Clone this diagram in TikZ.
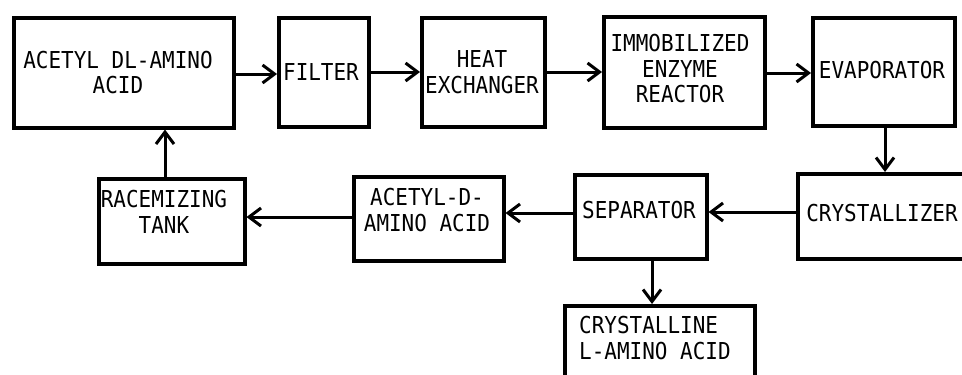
\documentclass[tikz,border=0pt]{standalone}
\usepackage{fontspec}
\setmainfont{DejaVu Sans Mono}[FakeStretch=0.9]
\usetikzlibrary{arrows.meta}
\begin{document}
\begin{tikzpicture}[x=1pt,y=-1pt,
  box/.style={draw, line width=3.5pt, inner sep=0pt, anchor=north west},
  lbl/.style={font=\fontsize{23.3}{25.5}\selectfont, align=center, inner sep=0pt},
  arr/.style={line width=3pt, -{Straight Barb[length=12pt,width=18pt,line width=3pt]}}]
\useasboundingbox (0,0) rectangle (962,375);
\clip (0,0) rectangle (962,375);
% boxes
\node[box, minimum width=220pt, minimum height=110pt] (b1) at (12,16) {};
\node[box, minimum width=90pt, minimum height=109pt] (filt) at (277,16) {};
\node[box, minimum width=123pt, minimum height=109pt] (heat) at (420,16) {};
\node[box, minimum width=161pt, minimum height=111pt] (reac) at (602,15) {};
\node[box, minimum width=142pt, minimum height=108pt] (evap) at (811,16) {};
\node[box, minimum width=200pt, minimum height=85pt] (cryst) at (796,172) {};
\node[box, minimum width=132pt, minimum height=84pt] (sep) at (573,173) {};
\node[box, minimum width=150pt, minimum height=84pt] (acd) at (352,175) {};
\node[box, minimum width=146pt, minimum height=85pt] (race) at (97,177) {};
\node[box, minimum width=190pt, minimum height=100pt] (cla) at (563,304) {};
% texts
\node[lbl] (t1) at (118,72.5) {ACETYL DL-AMINO\\ACID};
\node[lbl] (tf) at (321,72) {FILTER};
\node[lbl] (th) at (482,72) {HEAT\\EXCHANGER};
\node[lbl] (tr) at (680,69) {IMMOBILIZED\\ENZYME\\REACTOR};
\node[lbl] (te) at (882,70) {EVAPORATOR};
\node[lbl] (tc) at (882,213) {CRYSTALLIZER};
\node[lbl] (ts) at (639,210) {SEPARATOR};
\node[lbl] (ta) at (427,210) {ACETYL-D-\\AMINO ACID};
\node[lbl] (tk) at (164,212) {RACEMIZING\\TANK};
\node[lbl, align=left, anchor=west] (tl) at (579,338) {CRYSTALLINE\\L-AMINO ACID};
% helper coordinates
\coordinate (h1) at (0,74);
\coordinate (h2) at (0,72);
\coordinate (h3) at (0,72);
\coordinate (h4) at (0,73);
\coordinate (h5) at (0,212);
\coordinate (h6) at (0,213);
\coordinate (h7) at (0,217);
\coordinate (v1) at (885,0);
\coordinate (v2) at (165,0);
\coordinate (v3) at (652,0);
% connectors
\draw[arr] (b1.east |- h1) -- (filt.west |- h1);
\draw[arr] (filt.east |- h2) -- (heat.west |- h2);
\draw[arr] (heat.east |- h3) -- (reac.west |- h3);
\draw[arr] (reac.east |- h4) -- (evap.west |- h4);
\draw[arr] (evap.south -| v1) -- (cryst.north -| v1);
\draw[arr] (cryst.west |- h5) -- (sep.east |- h5);
\draw[arr] (sep.west |- h6) -- (acd.east |- h6);
\draw[arr] (acd.west |- h7) -- (race.east |- h7);
\draw[arr] (race.north -| v2) -- (b1.south -| v2);
\draw[arr] (sep.south -| v3) -- (cla.north -| v3);
\end{tikzpicture}
\end{document}
